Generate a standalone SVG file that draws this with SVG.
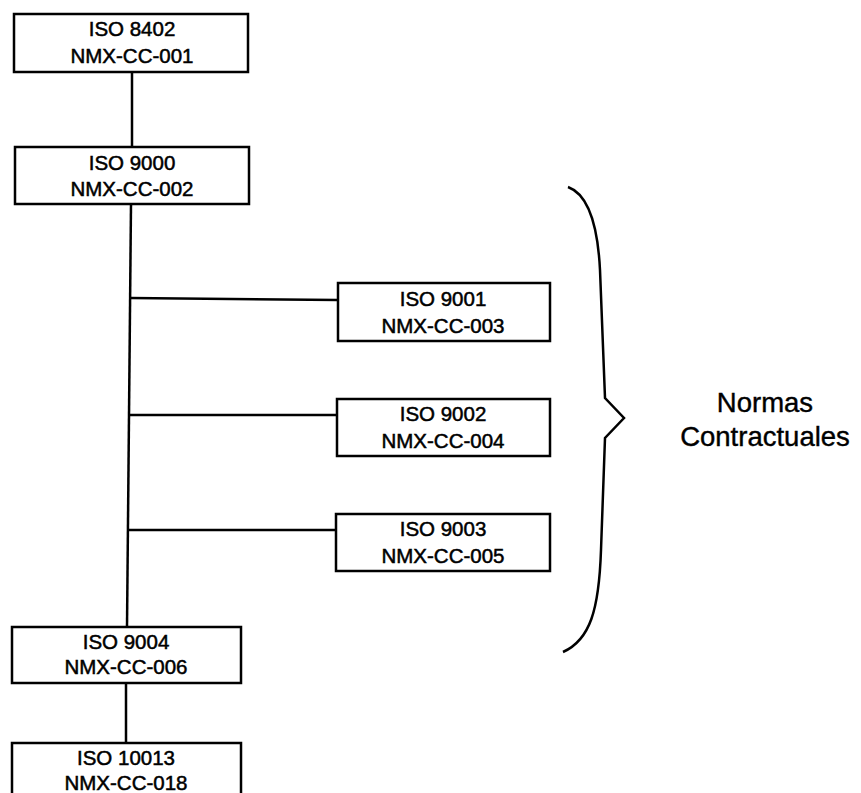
<svg xmlns="http://www.w3.org/2000/svg" width="861" height="793" viewBox="0 0 861 793">
  <style>
    .box { fill: #fff; stroke: #000; stroke-width: 2.5; }
    .wire { fill: none; stroke: #000; stroke-width: 2.5; }
    .lbl { font-family: "Liberation Sans", Arial, sans-serif; font-size: 20.5px; fill: #000; stroke: #000; stroke-width: 0.5; text-anchor: middle; }
    .note { font-family: "Liberation Sans", Arial, sans-serif; font-size: 27.5px; fill: #000; stroke: #000; stroke-width: 0.4; text-anchor: middle; }
  </style>
  <rect width="861" height="793" fill="#fff"/>

  <!-- connectors -->
  <g id="connectors">
    <line class="wire" x1="132" y1="72" x2="132" y2="147"/>
    <line class="wire" x1="131" y1="204" x2="127" y2="627"/>
    <line class="wire" x1="130" y1="298" x2="338" y2="300"/>
    <line class="wire" x1="129" y1="415" x2="337" y2="415"/>
    <line class="wire" x1="128" y1="530" x2="336" y2="530"/>
    <line class="wire" x1="126" y1="683" x2="126" y2="743"/>
  </g>

  <g id="iso8402">
    <rect class="box" x="14" y="14" width="234" height="58"/>
    <text class="lbl" x="132" y="36">ISO 8402</text>
    <text class="lbl" x="132" y="63">NMX-CC-001</text>
  </g>

  <g id="iso9000">
    <rect class="box" x="15" y="147" width="234" height="57"/>
    <text class="lbl" x="132" y="170">ISO 9000</text>
    <text class="lbl" x="132" y="196">NMX-CC-002</text>
  </g>

  <g id="iso9001">
    <rect class="box" x="338" y="283" width="212" height="58"/>
    <text class="lbl" x="443" y="306">ISO 9001</text>
    <text class="lbl" x="443" y="333">NMX-CC-003</text>
  </g>

  <g id="iso9002">
    <rect class="box" x="337" y="399" width="213" height="57"/>
    <text class="lbl" x="443" y="421">ISO 9002</text>
    <text class="lbl" x="443" y="448">NMX-CC-004</text>
  </g>

  <g id="iso9003">
    <rect class="box" x="336" y="514" width="214" height="57"/>
    <text class="lbl" x="443" y="536">ISO 9003</text>
    <text class="lbl" x="443" y="563">NMX-CC-005</text>
  </g>

  <g id="iso9004">
    <rect class="box" x="12" y="627" width="229" height="56"/>
    <text class="lbl" x="126" y="649">ISO 9004</text>
    <text class="lbl" x="126" y="674">NMX-CC-006</text>
  </g>

  <g id="iso10013">
    <rect class="box" x="12" y="743" width="229" height="60"/>
    <text class="lbl" x="126" y="765">ISO 10013</text>
    <text class="lbl" x="126" y="790">NMX-CC-018</text>
  </g>

  <!-- curly brace grouping the contractual standards -->
  <g id="brace">
    <path class="wire" d="M 568 187 C 590 195, 598 230, 600 270 L 605 398 L 624 418 L 605 438 L 601 550 C 599 610, 590 640, 563 652"/>
    <text class="note" x="765" y="412">Normas</text>
    <text class="note" x="765" y="446">Contractuales</text>
  </g>
</svg>
